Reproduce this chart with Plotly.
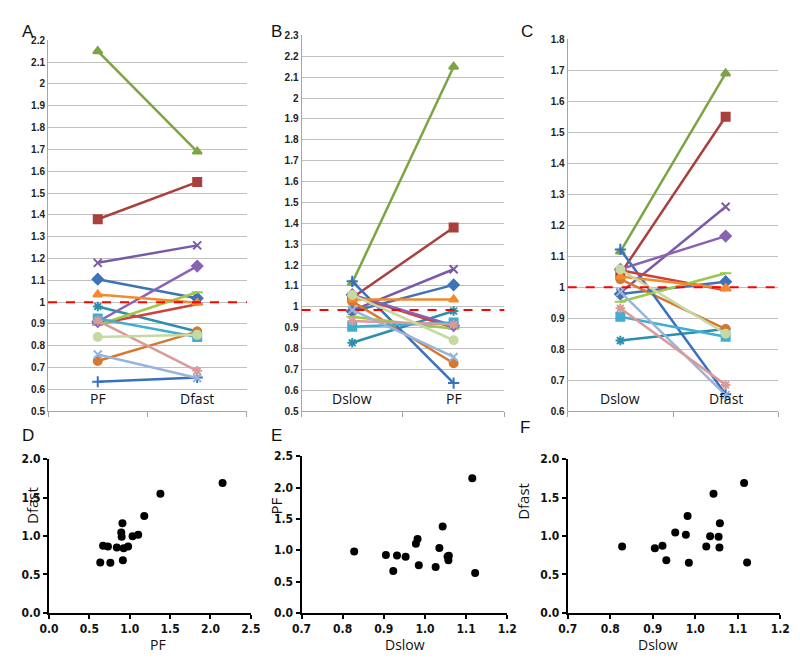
import numpy as np
import plotly.graph_objects as go

W, H = 800, 659

# ---- data: 16 subjects (Dslow, PF, Dfast) ----
dslow = [0.978, 1.043, 1.115, 0.982, 0.828, 1.026, 1.122, 1.055, 0.953, 1.058, 0.905, 1.035, 0.985, 0.932, 1.057, 0.923]
pf    = [1.105, 1.380, 2.150, 1.180, 0.980, 0.730, 0.635, 0.900, 0.895, 0.910, 0.925, 1.035, 0.760, 0.915, 0.840, 0.670]
dfast = [1.018, 1.550, 1.690, 1.260, 0.865, 0.865, 0.655, 0.990, 1.045, 1.165, 0.840, 0.997, 0.652, 0.685, 0.850, 0.875]
n_line_series = 15  # the first 15 subjects are drawn in the line panels

reference_levels = [1.0, 0.985, 1.0]  # red dashed lines in A, B, C

# styles of the line series
colors = ['#3F72B6', '#A9403D', '#7CA442', '#7A5AA6', '#2C8FAB', '#D7782F', '#3A70C0', '#D0413C',
          '#9CC84E', '#8A62B2', '#3FAED0', '#F28A2E', '#98B4DB', '#DA9A9A', '#C5D9A0']
symbols = ['diamond', 'square', 'triangle-up', 'x-thin', 'asterisk', 'circle', 'cross-thin', 'line-ew',
           'line-ew', 'diamond', 'square', 'triangle-up', 'x-thin', 'asterisk', 'circle']

def px_x(p):
    return p / W

def px_y(p):
    return 1 - p / H

fig = go.Figure()

top_panels = [
    ('', ['PF', 'Dfast'], pf, dfast, (39, 243), 0.5, 2.2, 34),
    ('2', ['Dslow', 'PF'], dslow, pf, (299, 507), 0.5, 2.3, 29),
    ('3', ['Dslow', 'Dfast'], dslow, dfast, (572, 788), 0.6, 1.8, 33),
]

font_fam = 'Liberation Sans, Arial, sans-serif'
narrow_fam = 'Liberation Sans Narrow, DejaVu Sans Condensed, Liberation Sans, sans-serif'
title_fam = 'Open Sans, Liberation Sans, sans-serif'

for k, (sfx, cats, v1, v2, (xa, xb), ymin, ymax, ytop) in enumerate(top_panels):
    xname = 'x' + sfx
    yname = 'y' + sfx
    for i in range(n_line_series):
        fig.add_trace(go.Scatter(
            x=[0, 1], y=[v1[i], v2[i]], xaxis=xname, yaxis=yname, mode='lines+markers',
            line=dict(color=colors[i], width=2.5),
            marker=dict(symbol=symbols[i], size=8, color=colors[i],
                        line=dict(color=colors[i], width=2)),
            showlegend=False, hoverinfo='skip'))
    tv = list(np.round(np.arange(ymin, ymax + 0.001, 0.1), 1))
    tt = [f"{v:g}" for v in tv]
    fig.layout['xaxis' + sfx] = dict(
        domain=[px_x(xa), px_x(xb)], range=[-0.5, 1.5], anchor=yname,
        showgrid=False, zeroline=False, showline=True, linecolor='#A6A6A6', linewidth=1,
        tickvals=[-0.5, 0.5, 1.5], ticktext=['', '', ''], ticks='outside', ticklen=5,
        tickcolor='#A6A6A6', fixedrange=True)
    fig.layout['yaxis' + sfx] = dict(
        domain=[px_y(413), px_y(ytop)], range=[ymin, ymax], anchor=xname,
        showgrid=True, gridcolor='#BFBFBF', gridwidth=1, zeroline=False,
        showline=True, linecolor='#A6A6A6', linewidth=1,
        tickvals=tv, ticktext=tt, ticks='',
        tickfont=dict(family=font_fam, size=10, color='#222', weight='bold'))
    fig.add_shape(type='line', xref=xname + ' domain', yref=yname, x0=0, x1=1,
                  y0=reference_levels[k], y1=reference_levels[k],
                  line=dict(color='#FF0000', width=2, dash='dash'))
    for j, c in enumerate(cats):
        fig.add_annotation(x=j, y=0.003, xref=xname, yref=yname + ' domain', text=c,
                           showarrow=False, yanchor='bottom',
                           font=dict(family=title_fam, size=14, color='#111'))

# ---- bottom scatter panels ----
bottom_panels = [
    ('4', pf, dfast, (40, 247), [0, 2.5], [0, 2.0], 462, 'PF', 'Dfast', 143, (10, 530)),
    ('5', dslow, pf, (299, 510), [0.7, 1.2], [0, 2.5], 459, 'Dslow', 'PF', 405, (273, 521)),
    ('6', dslow, dfast, (572, 790), [0.7, 1.2], [0, 2.0], 462, 'Dslow', 'Dfast', 686, (539, 526)),
]
for sfx, xs, ys, (xa, xb), xr, yr, ytop, xt, yt, xtx, (ytx, yty) in bottom_panels:
    xname = 'x' + sfx
    yname = 'y' + sfx
    fig.add_trace(go.Scatter(x=xs, y=ys, xaxis=xname, yaxis=yname, mode='markers',
                             marker=dict(color='black', size=8), showlegend=False, hoverinfo='skip'))
    dt = 0.1 if xr[1] < 2 else 0.5
    fig.layout['xaxis' + sfx] = dict(
        domain=[px_x(xa), px_x(xb)], range=xr, anchor=yname, dtick=dt, tick0=xr[0],
        showgrid=False, zeroline=False, showline=True, linecolor='black', linewidth=2,
        ticks='outside', ticklen=4, tickwidth=2, tickcolor='black', tickformat='.1f',
        tickfont=dict(family=narrow_fam, size=12, color='#111', weight='bold'))
    fig.layout['yaxis' + sfx] = dict(
        domain=[px_y(619), px_y(ytop)], range=yr, anchor=xname, dtick=0.5,
        showgrid=False, zeroline=False, showline=True, linecolor='black', linewidth=2,
        ticks='outside', ticklen=4, tickwidth=2, tickcolor='black', tickformat='.1f',
        tickfont=dict(family=narrow_fam, size=12, color='#111', weight='bold'))
    fig.add_annotation(x=px_x(xtx), y=0, xref='paper', yref='paper', text=xt,
                       showarrow=False, yanchor='bottom', borderpad=0, yshift=-3,
                       font=dict(family=title_fam, size=14, color='#111'))
    fig.add_annotation(x=px_x(ytx), y=px_y(yty), xref='paper', yref='paper', text=yt,
                       showarrow=False, textangle=-90,
                       font=dict(family=title_fam, size=15, color='#111'))

# panel letters
for letter, (lx, ly) in zip('ABCDEF', [(10, 13), (273, 13), (538, 13), (10, 438), (273, 438), (535, 441)]):
    fig.add_annotation(x=px_x(lx), y=px_y(ly), xref='paper', yref='paper', text=letter,
                       showarrow=False, font=dict(family=font_fam, size=17, color='#111'))

fig.update_layout(width=W, height=H, margin=dict(l=0, r=0, t=0, b=0),
                  paper_bgcolor='white', plot_bgcolor='white', showlegend=False)

fig.write_html('out.html', config={'displayModeBar': False},
               post_script="document.body.style.margin='0';")
